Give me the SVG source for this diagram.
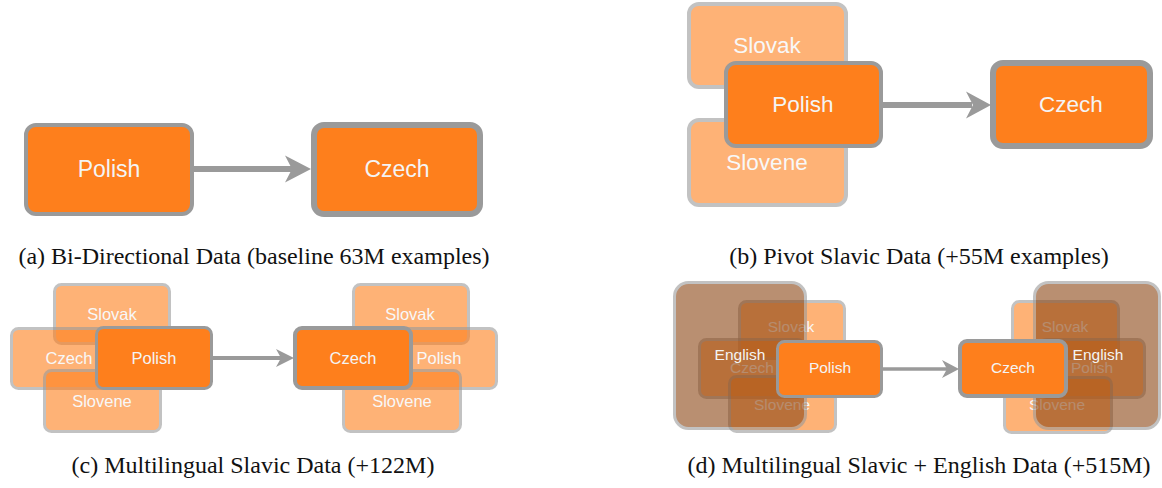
<svg xmlns="http://www.w3.org/2000/svg" width="1162" height="488" viewBox="0 0 1162 488">
<style>
.main{fill:#fe7f1c;stroke:#9a9a9a}
.lt{fill:#fe7f1c;stroke:#9a9a9a}
.en{fill:#8b4513;stroke:#9a9a9a}
.fade{opacity:0.6}
.t{font-family:"Liberation Sans",Arial,sans-serif;fill:#f4f4f4;text-anchor:middle}
.cap{font-family:"Liberation Serif","Times New Roman",serif;fill:#111;font-size:24px;text-anchor:middle}
.ln{stroke:#9a9a9a;fill:none}
.ah{fill:#9a9a9a}
</style>
<rect width="1162" height="488" fill="#fff"/>

<!-- Panel (a) -->
<g id="connectors-a">
<line class="ln" x1="193" y1="169" x2="292" y2="169" stroke-width="6"/>
<path class="ah" d="M311,169 L285,155.5 L292,169 L285,182.5 Z"/>
</g>
<g id="a-polish"><rect class="main" x="26" y="125" width="166" height="89" rx="10" stroke-width="4"/><text class="t" x="109" y="177" font-size="23">Polish</text></g>
<g id="a-czech"><rect class="main" x="314" y="125" width="166" height="89" rx="10" stroke-width="6"/><text class="t" x="397" y="177" font-size="23">Czech</text></g>
<text class="cap" x="254" y="264">(a) Bi-Directional Data (baseline 63M examples)</text>

<!-- Panel (b) -->
<g id="connectors-b">
<line class="ln" x1="882" y1="105" x2="972" y2="105" stroke-width="6"/>
<path class="ah" d="M991,105 L966,91.5 L973,105 L966,118.5 Z"/>
</g>
<g id="b-slovak" class="fade"><rect class="lt" x="689" y="4" width="157" height="83" rx="10" stroke-width="4"/><text class="t" x="767" y="53" font-size="22.5">Slovak</text></g>
<g id="b-slovene" class="fade"><rect class="lt" x="689" y="120" width="157" height="85" rx="10" stroke-width="4"/><text class="t" x="767" y="170" font-size="22.5">Slovene</text></g>
<g id="b-polish"><rect class="main" x="726" y="63" width="155" height="83" rx="10" stroke-width="4"/><text class="t" x="803" y="112" font-size="22.5">Polish</text></g>
<g id="b-czech"><rect class="main" x="993" y="63" width="157" height="83" rx="10" stroke-width="6"/><text class="t" x="1071" y="112" font-size="22.5">Czech</text></g>
<text class="cap" x="919" y="264">(b) Pivot Slavic Data (+55M examples)</text>

<!-- Panel (c) -->
<g id="connectors-c">
<line class="ln" x1="213" y1="358" x2="282" y2="358" stroke-width="4"/>
<path class="ah" d="M294,358 L276,349 L281,358 L276,367 Z"/>
</g>
<g id="c-l-slovak" class="fade"><rect class="lt" x="54.5" y="284.5" width="115" height="59" rx="7" stroke-width="3"/><text class="t" x="112" y="320" font-size="16.5">Slovak</text></g>
<g id="c-l-czech" class="fade"><rect class="lt" x="11.5" y="328.5" width="115" height="60" rx="7" stroke-width="3"/><text class="t" x="69" y="364" font-size="16.5">Czech</text></g>
<g id="c-l-slovene" class="fade"><rect class="lt" x="44.5" y="370.5" width="116" height="61" rx="7" stroke-width="3"/><text class="t" x="102" y="407" font-size="16.5">Slovene</text></g>
<g id="c-l-polish"><rect class="main" x="96.5" y="327.5" width="115" height="61" rx="7" stroke-width="3"/><text class="t" x="154" y="364" font-size="16.5">Polish</text></g>
<g id="c-r-slovak" class="fade"><rect class="lt" x="353.5" y="284.5" width="115" height="59" rx="7" stroke-width="3"/><text class="t" x="410" y="320" font-size="16.5">Slovak</text></g>
<g id="c-r-polish" class="fade"><rect class="lt" x="381.5" y="328.5" width="115" height="60" rx="7" stroke-width="3"/><text class="t" x="439" y="364" font-size="16.5">Polish</text></g>
<g id="c-r-slovene" class="fade"><rect class="lt" x="343.5" y="370.5" width="117" height="61" rx="7" stroke-width="3"/><text class="t" x="402" y="407" font-size="16.5">Slovene</text></g>
<g id="c-r-czech"><rect class="main" x="295" y="328" width="116" height="60" rx="7" stroke-width="4"/><text class="t" x="353" y="364" font-size="16.5">Czech</text></g>
<text class="cap" x="253" y="473">(c) Multilingual Slavic Data (+122M)</text>

<!-- Panel (d) -->
<g id="connectors-d">
<line class="ln" x1="883" y1="369" x2="947" y2="369" stroke-width="3.5"/>
<path class="ah" d="M959,369 L942,360 L947,369 L942,378 Z"/>
</g>
<g id="d-l-slovak" class="fade"><rect class="lt" x="739.5" y="301.5" width="105" height="57" rx="7" stroke-width="3"/><text class="t" x="791" y="332" font-size="15.5">Slovak</text></g>
<g id="d-l-czech" class="fade"><rect class="lt" x="699.5" y="339.5" width="105" height="58" rx="7" stroke-width="3"/><text class="t" x="752" y="373" font-size="15.5">Czech</text></g>
<g id="d-l-slovene" class="fade"><rect class="lt" x="729.5" y="376.5" width="106" height="55" rx="7" stroke-width="3"/><text class="t" x="782" y="410" font-size="15.5">Slovene</text></g>
<g id="d-l-english"><rect class="en fade" x="674.5" y="282.5" width="131" height="146" rx="14" stroke-width="3"/><text class="t" x="740" y="360" font-size="15.5">English</text></g>
<g id="d-l-polish"><rect class="main" x="777.5" y="341.5" width="104" height="55" rx="7" stroke-width="3"/><text class="t" x="830" y="373" font-size="15.5">Polish</text></g>
<g id="d-r-slovak" class="fade"><rect class="lt" x="1012.5" y="301.5" width="106" height="57" rx="7" stroke-width="3"/><text class="t" x="1065" y="332" font-size="15.5">Slovak</text></g>
<g id="d-r-polish" class="fade"><rect class="lt" x="1039.5" y="339.5" width="105" height="58" rx="7" stroke-width="3"/><text class="t" x="1092" y="373" font-size="15.5">Polish</text></g>
<g id="d-r-slovene" class="fade"><rect class="lt" x="1004.5" y="377.5" width="107" height="55" rx="7" stroke-width="3"/><text class="t" x="1057" y="410" font-size="15.5">Slovene</text></g>
<g id="d-r-english"><rect class="en fade" x="1034.5" y="282.5" width="125" height="146" rx="14" stroke-width="3"/><text class="t" x="1098" y="360" font-size="15.5">English</text></g>
<g id="d-r-czech"><rect class="main" x="960" y="341" width="106" height="55" rx="7" stroke-width="4"/><text class="t" x="1013" y="373" font-size="15.5">Czech</text></g>
<text class="cap" x="919" y="473">(d) Multilingual Slavic + English Data (+515M)</text>
</svg>
